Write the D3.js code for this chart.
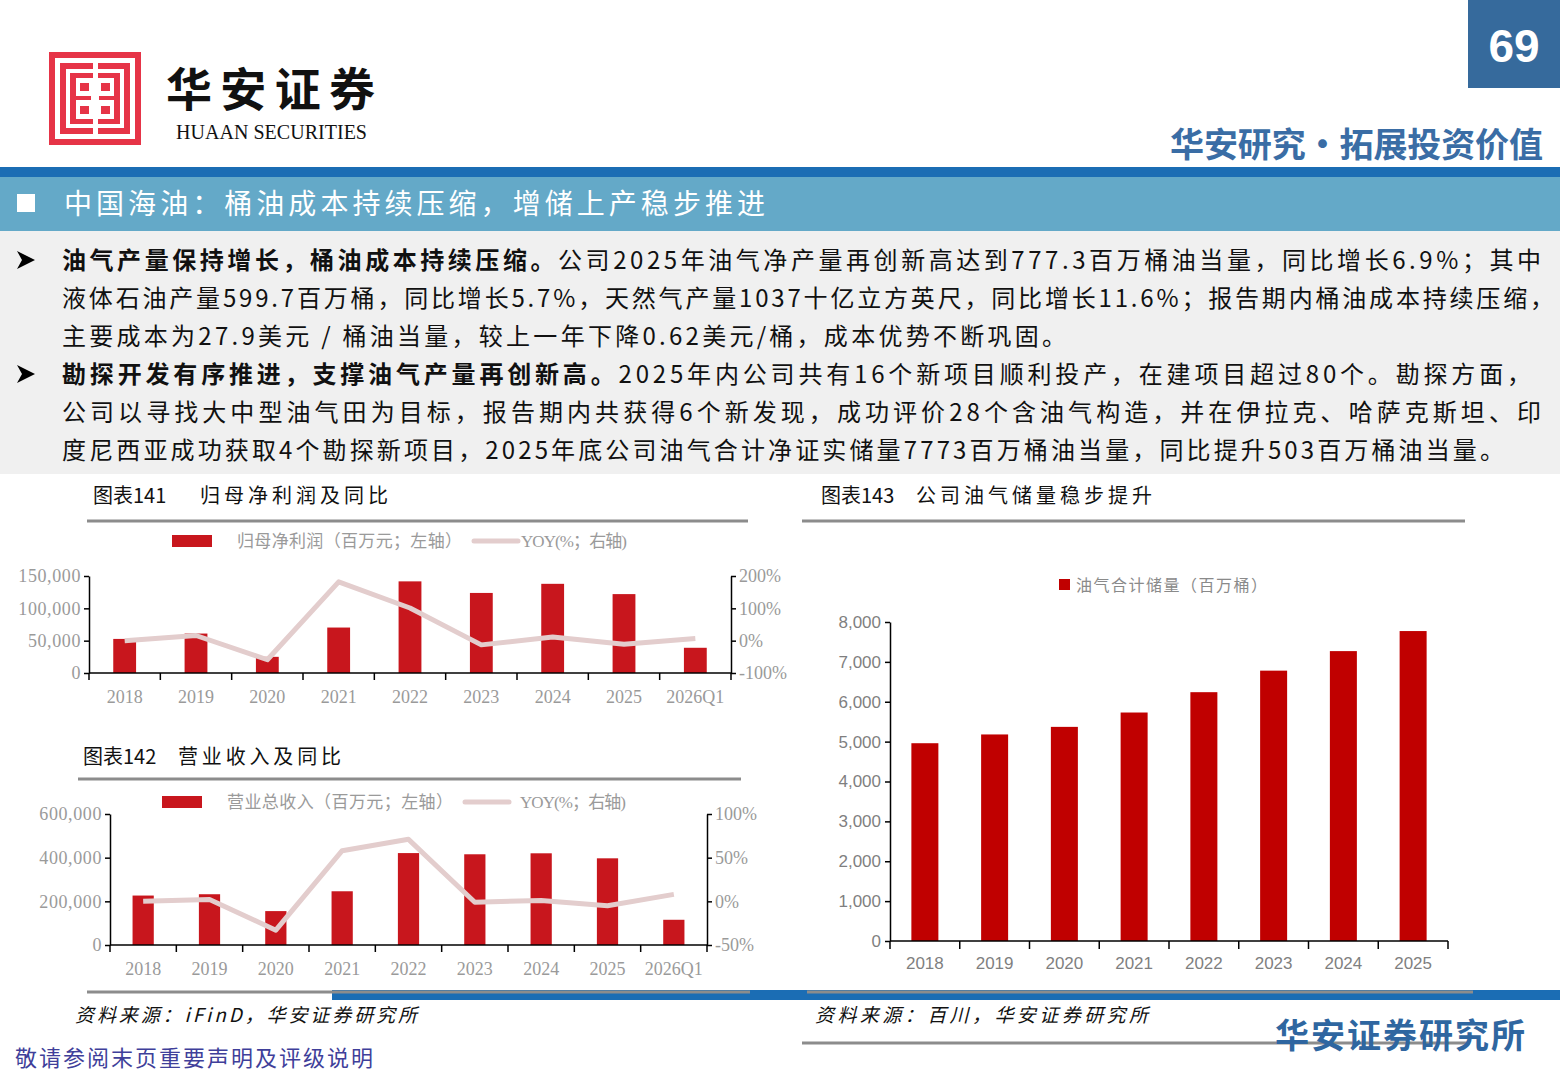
<!DOCTYPE html>
<html>
<head>
<meta charset="utf-8">
<script src="https://cdn.jsdelivr.net/npm/d3@7"></script>
<style>
  body { margin: 0; background: #fff; }
</style>
</head>
<body>
<div id="page"></div>
<script>
// ---- data ----
var years = ["2018", "2019", "2020", "2021", "2022", "2023", "2024", "2025", "2026Q1"];
var netProfit = [52700, 61000, 25000, 70300, 141700, 123800, 137900, 122000, 39000];
var netProfitYoy = [0, 16, -59, 182, 101, -13, 11, -11, 7];
var revenue = [226500, 232500, 155300, 246100, 421000, 415500, 420000, 397000, 115500];
var revenueYoy = [0, 2, -33, 58, 71, -1, 1, -5, 8];
var reserveYears = ["2018", "2019", "2020", "2021", "2022", "2023", "2024", "2025"];
var reserves = [4960, 5180, 5370, 5730, 6240, 6780, 7270, 7773];

var profitTicks = [0, 50000, 100000, 150000];
var profitYoyTicks = [-100, 0, 100, 200];
var revenueTicks = [0, 200000, 400000, 600000];
var revenueYoyTicks = [-50, 0, 50, 100];

var bodyLines = [
  [{b: true, t: "油气产量保持增长，桶油成本持续压缩。"}, {t: "公司2025年油气净产量再创新高达到777.3百万桶油当量，同比增长6.9%；其中"}],
  [{t: "液体石油产量599.7百万桶，同比增长5.7%，天然气产量1037十亿立方英尺，同比增长11.6%；报告期内桶油成本持续压缩，"}],
  [{t: "主要成本为27.9美元 / 桶油当量，较上一年下降0.62美元/桶，成本优势不断巩固。"}],
  [{b: true, t: "勘探开发有序推进，支撑油气产量再创新高。"}, {t: "2025年内公司共有16个新项目顺利投产，在建项目超过80个。勘探方面，"}],
  [{t: "公司以寻找大中型油气田为目标，报告期内共获得6个新发现，成功评价28个含油气构造，并在伊拉克、哈萨克斯坦、印"}],
  [{t: "度尼西亚成功获取4个勘探新项目，2025年底公司油气合计净证实储量7773百万桶油当量，同比提升503百万桶油当量。"}]
];
var bodyEnds = [1541, 1554, 1066, 1531, 1541, 1504];

// ---- page ----
var W = 1560, H = 1080;
var cjk = "'Noto Sans CJK SC', sans-serif";
var serifMix = "'Liberation Serif', 'Noto Sans CJK SC', serif";
var sans = "'Liberation Sans', Arial, sans-serif";

var svg = d3.select("#page").append("svg")
    .attr("width", W)
    .attr("height", H)
    .style("display", "block");

svg.append("rect").attr("width", W).attr("height", H).attr("fill", "#fff");

// stretch letter spacing so a text runs to a given width
function fitText(sel, width) {
  var node = sel.node();
  var w = node.getComputedTextLength();
  var n = sel.text().length;
  if (n > 1) sel.attr("letter-spacing", (width - w) / (n - 1));
  return sel;
}

// logo
var logo = svg.append("g");
logo.append("rect").attr("x", 49).attr("y", 52).attr("width", 92).attr("height", 93).attr("fill", "#E63447");
logo.append("rect").attr("x", 57.5).attr("y", 60.5).attr("width", 75).attr("height", 76)
    .attr("fill", "none").attr("stroke", "#fff").attr("stroke-width", 5);
logo.append("rect").attr("x", 68).attr("y", 71).attr("width", 54).attr("height", 55)
    .attr("fill", "none").attr("stroke", "#fff").attr("stroke-width", 4);
logo.append("rect").attr("x", 76).attr("y", 78).attr("width", 38).attr("height", 41).attr("fill", "#fff");
logo.append("rect").attr("x", 93).attr("y", 62).attr("width", 5).attr("height", 73).attr("fill", "#fff");
[[80, 83], [101, 83], [80, 106], [101, 106]].forEach(function(p) {
  logo.append("rect").attr("x", p[0]).attr("y", p[1]).attr("width", 9).attr("height", 8).attr("fill", "#E63447");
});
logo.append("rect").attr("x", 76).attr("y", 96).attr("width", 15).attr("height", 4).attr("fill", "#E63447");
logo.append("rect").attr("x", 99).attr("y", 96).attr("width", 15).attr("height", 4).attr("fill", "#E63447");

fitText(svg.append("text").attr("x", 166).attr("y", 106)
    .style("font-family", cjk).style("font-size", "46px").style("font-weight", 700)
    .attr("fill", "#111").text("华安证券"), 209);
fitText(svg.append("text").attr("x", 176).attr("y", 139)
    .style("font-family", "'Liberation Serif', serif").style("font-size", "20px")
    .attr("fill", "#111").text("HUAAN SECURITIES"), 191);

// page number
svg.append("rect").attr("x", 1468).attr("y", 0).attr("width", 92).attr("height", 88).attr("fill", "#366A9C");
svg.append("text").attr("x", 1514).attr("y", 62).attr("text-anchor", "middle")
    .style("font-family", sans).style("font-size", "46px").style("font-weight", 700)
    .attr("fill", "#fff").text("69");

fitText(svg.append("text").attr("x", 1170).attr("y", 157)
    .style("font-family", cjk).style("font-size", "34px").style("font-weight", 700)
    .attr("fill", "#3A6DA5").text("华安研究•拓展投资价值"), 373);

// title band
svg.append("rect").attr("x", 0).attr("y", 167).attr("width", W).attr("height", 10).attr("fill", "#1B6DB4");
svg.append("rect").attr("x", 0).attr("y", 177).attr("width", W).attr("height", 54).attr("fill", "#64A9C8");
svg.append("rect").attr("x", 17).attr("y", 194).attr("width", 18).attr("height", 18).attr("fill", "#fff");
fitText(svg.append("text").attr("x", 64).attr("y", 214)
    .style("font-family", cjk).style("font-size", "28px")
    .attr("fill", "#fff").text("中国海油：桶油成本持续压缩，增储上产稳步推进"), 701);

// body text
svg.append("rect").attr("x", 0).attr("y", 231).attr("width", W).attr("height", 243).attr("fill", "#F0F0F0");
bodyLines.forEach(function(segs, i) {
  var y = 269 + i * 38;
  if (i === 0 || i === 3) {
    svg.append("path")
      .attr("d", "M17," + (y - 18) + " L35," + (y - 9) + " L17," + y + " L22," + (y - 9) + " Z")
      .attr("fill", "#000");
  }
  var t = svg.append("text").attr("x", 62).attr("y", y)
      .style("font-family", cjk).style("font-size", "24px").attr("fill", "#111");
  segs.forEach(function(s) {
    t.append("tspan").style("font-weight", s.b ? 700 : 400).text(s.t);
  });
  fitText(t, bodyEnds[i] - 62);
});

// ---- dual-axis bar + line chart ----
function comboChart(o) {
  var g = svg.append("g");
  var x = d3.scaleBand().domain(o.cats).range([o.x0, o.x1]);
  var yL = d3.scaleLinear().domain(o.leftDomain).range([o.yB, o.yT]);
  var yR = d3.scaleLinear().domain(o.rightDomain).range([o.yB, o.yT]);
  var bw = x.bandwidth() * 0.32;

  // title + rule
  g.append("text").attr("x", o.titleX).attr("y", o.titleY)
    .style("font-family", cjk).style("font-size", "20px").attr("fill", "#111").text(o.titleNo);
  fitText(g.append("text").attr("x", o.titleX2).attr("y", o.titleY)
    .style("font-family", cjk).style("font-size", "20px").attr("fill", "#111").text(o.title), o.titleW);
  g.append("line").attr("x1", o.ruleX0).attr("x2", o.ruleX1).attr("y1", o.ruleY).attr("y2", o.ruleY)
    .attr("stroke", "#8c8c8c").attr("stroke-width", 3);

  // legend
  g.append("rect").attr("x", o.legX).attr("y", o.legY - 6).attr("width", 40).attr("height", 12).attr("fill", "#C8161D");
  fitText(g.append("text").attr("x", o.legX + 65).attr("y", o.legY + 6)
    .style("font-family", serifMix).style("font-size", "17px").attr("fill", "#9a9a9a").text(o.barName), o.barNameW);
  g.append("line").attr("x1", o.legLineX).attr("x2", o.legLineX + 44).attr("y1", o.legY).attr("y2", o.legY)
    .attr("stroke", "#E3CDCD").attr("stroke-width", 5).attr("stroke-linecap", "round");
  fitText(g.append("text").attr("x", o.legLineX + o.lineTextDx).attr("y", o.legY + 6)
    .style("font-family", serifMix).style("font-size", "17px").attr("fill", "#9a9a9a").text("YOY(%；右轴)"), 106);

  // bars
  g.selectAll(".bar").data(o.bars).enter().append("rect")
    .attr("x", function(d, i) { return x(o.cats[i]) + (x.bandwidth() - bw) / 2; })
    .attr("width", bw)
    .attr("y", function(d) { return yL(d); })
    .attr("height", function(d) { return yL(0) - yL(d); })
    .attr("fill", "#C8161D");

  // yoy line
  var line = d3.line()
    .x(function(d, i) { return x(o.cats[i]) + x.bandwidth() / 2; })
    .y(function(d) { return yR(d); });
  g.append("path").datum(o.line)
    .attr("d", line)
    .attr("fill", "none")
    .attr("stroke", "#E3CDCD")
    .attr("stroke-width", 5)
    .attr("stroke-linejoin", "round");

  // axes
  var axL = g.append("g").attr("transform", "translate(" + o.x0 + ",0)")
    .call(d3.axisLeft(yL).tickValues(o.leftTicks).tickSize(5).tickSizeOuter(0).tickFormat(d3.format(",")));
  var axR = g.append("g").attr("transform", "translate(" + o.x1 + ",0)")
    .call(d3.axisRight(yR).tickValues(o.rightTicks).tickSize(5).tickSizeOuter(0).tickFormat(function(d) { return d + "%"; }));
  [axL, axR].forEach(function(a) {
    a.select(".domain").attr("stroke", "#000").attr("stroke-width", 1.5);
    a.selectAll(".tick line").attr("stroke", "#000").attr("stroke-width", 1.5);
    a.selectAll(".tick text").attr("fill", "#9a9a9a")
      .style("font-family", "'Liberation Serif', serif").style("font-size", "18px");
  });
  axL.selectAll(".tick text").attr("letter-spacing", 0.6);

  // category axis with ticks at band edges
  g.append("line").attr("x1", o.x0).attr("x2", o.x1).attr("y1", o.yB).attr("y2", o.yB)
    .attr("stroke", "#000").attr("stroke-width", 1.5);
  g.selectAll(".xt").data(d3.range(o.cats.length + 1)).enter().append("line")
    .attr("x1", function(i) { return o.x0 + i * x.step(); })
    .attr("x2", function(i) { return o.x0 + i * x.step(); })
    .attr("y1", o.yB).attr("y2", o.yB + 7)
    .attr("stroke", "#000").attr("stroke-width", 1.5);
  g.selectAll(".xl").data(o.cats).enter().append("text")
    .attr("x", function(d) { return x(d) + x.bandwidth() / 2; })
    .attr("y", o.yB + 30)
    .attr("text-anchor", "middle")
    .style("font-family", "'Liberation Serif', serif").style("font-size", "18px")
    .attr("fill", "#9a9a9a")
    .text(function(d) { return d; });
}

comboChart({
  cats: years, bars: netProfit, line: netProfitYoy,
  x0: 89, x1: 731, yT: 576, yB: 673,
  leftDomain: [0, 150000], rightDomain: [-100, 200],
  leftTicks: profitTicks, rightTicks: profitYoyTicks,
  titleNo: "图表141", titleX: 93, titleX2: 200, titleY: 503, title: "归母净利润及同比", titleW: 188,
  ruleX0: 87, ruleX1: 748, ruleY: 521,
  legX: 172, legY: 541, barName: "归母净利润（百万元；左轴）", barNameW: 225,
  legLineX: 474, lineTextDx: 47
});

comboChart({
  cats: years, bars: revenue, line: revenueYoy,
  x0: 110, x1: 707, yT: 814, yB: 945,
  leftDomain: [0, 600000], rightDomain: [-50, 100],
  leftTicks: revenueTicks, rightTicks: revenueYoyTicks,
  titleNo: "图表142", titleX: 83, titleX2: 178, titleY: 764, title: "营业收入及同比", titleW: 163,
  ruleX0: 78, ruleX1: 741, ruleY: 779,
  legX: 162, legY: 802, barName: "营业总收入（百万元；左轴）", barNameW: 226,
  legLineX: 465, lineTextDx: 55
});

// ---- reserves chart ----
var g3 = svg.append("g");
g3.append("text").attr("x", 821).attr("y", 503)
  .style("font-family", cjk).style("font-size", "20px").attr("fill", "#111").text("图表143");
fitText(g3.append("text").attr("x", 916).attr("y", 503)
  .style("font-family", cjk).style("font-size", "20px").attr("fill", "#111").text("公司油气储量稳步提升"), 236);
g3.append("line").attr("x1", 802).attr("x2", 1465).attr("y1", 521).attr("y2", 521)
  .attr("stroke", "#8c8c8c").attr("stroke-width", 3);

g3.append("rect").attr("x", 1059).attr("y", 579).attr("width", 11).attr("height", 11).attr("fill", "#C00000");
fitText(g3.append("text").attr("x", 1076).attr("y", 591)
  .style("font-family", cjk).style("font-size", "16px").attr("fill", "#8a8a8a").text("油气合计储量（百万桶）"), 191);

var x3 = d3.scaleBand().domain(reserveYears).range([890, 1448]);
var y3 = d3.scaleLinear().domain([0, 8000]).range([941, 622]);
var bw3 = 27;

g3.selectAll(".rbar").data(reserves).enter().append("rect")
  .attr("x", function(d, i) { return x3(reserveYears[i]) + (x3.bandwidth() - bw3) / 2; })
  .attr("width", bw3)
  .attr("y", function(d) { return y3(d); })
  .attr("height", function(d) { return y3(0) - y3(d); })
  .attr("fill", "#C00000");

var ax3 = g3.append("g").attr("transform", "translate(890,0)")
  .call(d3.axisLeft(y3).ticks(8).tickSize(5).tickSizeOuter(0).tickFormat(d3.format(",")));
ax3.select(".domain").attr("stroke", "#000").attr("stroke-width", 1.5);
ax3.selectAll(".tick line").attr("stroke", "#000").attr("stroke-width", 1.5);
ax3.selectAll(".tick text").attr("fill", "#7f7f7f").attr("x", -9)
  .style("font-family", sans).style("font-size", "17px");

g3.append("line").attr("x1", 890).attr("x2", 1448).attr("y1", 941).attr("y2", 941)
  .attr("stroke", "#000").attr("stroke-width", 1.5);
g3.selectAll(".xt3").data(d3.range(reserveYears.length + 1)).enter().append("line")
  .attr("x1", function(i) { return 890 + i * x3.step(); })
  .attr("x2", function(i) { return 890 + i * x3.step(); })
  .attr("y1", 941).attr("y2", 949)
  .attr("stroke", "#000").attr("stroke-width", 1.5);
g3.selectAll(".xl3").data(reserveYears).enter().append("text")
  .attr("x", function(d) { return x3(d) + x3.bandwidth() / 2; })
  .attr("y", 969)
  .attr("text-anchor", "middle")
  .style("font-family", sans).style("font-size", "17px")
  .attr("fill", "#7f7f7f")
  .text(function(d) { return d; });

// ---- footer ----
svg.append("rect").attr("x", 332).attr("y", 990).attr("width", W - 332).attr("height", 10).attr("fill", "#1B6DB4");
svg.append("line").attr("x1", 87).attr("x2", 750).attr("y1", 992).attr("y2", 992)
  .attr("stroke", "#8c8c8c").attr("stroke-width", 3);
svg.append("line").attr("x1", 807).attr("x2", 1473).attr("y1", 992).attr("y2", 992)
  .attr("stroke", "#8c8c8c").attr("stroke-width", 3);

fitText(svg.append("text").attr("x", 75).attr("y", 1022)
  .style("font-family", cjk).style("font-size", "19px").style("font-style", "italic")
  .attr("fill", "#111").text("资料来源：iFinD，华安证券研究所"), 342);
fitText(svg.append("text").attr("x", 815).attr("y", 1022)
  .style("font-family", cjk).style("font-size", "19px").style("font-style", "italic")
  .attr("fill", "#111").text("资料来源：百川，华安证券研究所"), 333);

svg.append("line").attr("x1", 802).attr("x2", 1470).attr("y1", 1043).attr("y2", 1043)
  .attr("stroke", "#8c8c8c").attr("stroke-width", 3);
fitText(svg.append("text").attr("x", 1275).attr("y", 1048)
  .style("font-family", cjk).style("font-size", "34px").style("font-weight", 700)
  .attr("fill", "#2F66A0").text("华安证券研究所"), 250);
fitText(svg.append("text").attr("x", 15).attr("y", 1066)
  .style("font-family", cjk).style("font-size", "22px")
  .attr("fill", "#3F3F9A").text("敬请参阅末页重要声明及评级说明"), 358);
</script>
</body>
</html>
